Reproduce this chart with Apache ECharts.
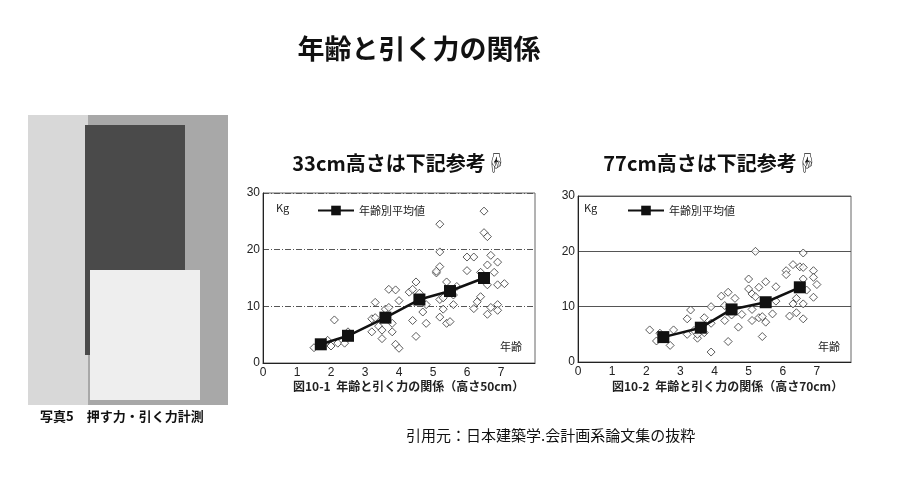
<!DOCTYPE html>
<html><head><meta charset="utf-8">
<script src="https://cdn.jsdelivr.net/npm/echarts@6/dist/echarts.min.js"></script>
<style>body{margin:0;background:#fff}#c{width:900px;height:500px}</style>
</head><body><div id="c"></div>
<script>
const title = "年齢と引く力の関係";
const sub1 = "33cm高さは下記参考☟";
const sub2 = "77cm高さは下記参考☟";
const cap1 = "図10-1  年齢と引く力の関係（高さ50cm）";
const cap2 = "図10-2  年齢と引く力の関係（高さ70cm）";
const photoCaption = "写真5　押す力・引く力計測";
const source = "引用元：日本建築学.会計画系論文集の抜粋";
const meanName = "年齢別平均値";
const xTicks = [0,1,2,3,4,5,6,7];
const yTicks = [0,10,20,30];
const scatter1 = [[1.5,2.7],[1.7,3.5],[1.9,4],[2.0,3],[2.1,7.6],[2.2,3.5],[2.4,3.5],[2.5,5.5],[2.5,4.5],
 [3.2,5.5],[3.2,7.8],[3.3,8],[3.3,10.7],[3.4,6.5],[3.5,4.3],[3.5,5.8],[3.6,9.5],[3.7,9.8],[3.7,13],[3.8,7],[3.8,5.5],[3.9,3.3],[4.0,2.6],[3.9,12.9],[4.0,11],
 [4.3,12.5],[4.4,13],[4.4,7.5],[4.5,14.3],[4.5,4.7],[4.6,12.3],[4.7,9],[4.8,10.3],[4.8,7],
 [5.1,15.9],[5.1,16.2],[5.2,17],[5.2,11.2],[5.2,8.1],[5.2,24.5],[5.2,19.6],[5.3,11.5],[5.3,9.5],[5.4,14.3],[5.4,7],[5.5,7.3],[5.6,10.3],[5.6,12],[5.7,13.5],
 [6.0,18.7],[6.0,16.3],[6.2,18.7],[6.2,9.6],[6.3,10.8],[6.4,11.7],[6.4,16],[6.5,23],[6.6,22.3],[6.6,17.3],[6.6,13.8],[6.6,8.6],[6.7,19],[6.7,9.8],[6.8,16],[6.9,17.8],[6.9,10.3],[6.9,9.3],[6.9,13.8],[7.1,14],[6.5,26.8]];
const mean1 = [[1.7,3.3],[2.5,4.8],[3.6,8],[4.6,11.2],[5.5,12.7],[6.5,15]];
const scatter2 = [[2.1,5.8],[2.3,3.8],[2.4,5.2],[2.7,3],[2.8,5.8],[3.2,5],[3.2,7.8],[3.3,9.4],[3.4,5.7],[3.5,4.3],[3.5,5],[3.7,8],[3.7,5.3],[3.9,7],[3.9,10],[3.9,1.8],
 [4.2,11.9],[4.3,7.5],[4.3,10.2],[4.4,12.6],[4.4,3.7],[4.5,8.5],[4.6,11.5],[4.7,6.3],[4.8,8.6],
 [5.0,15],[5.0,13.2],[5.1,12.3],[5.1,9.5],[5.1,7.5],[5.2,20],[5.2,11.8],[5.3,13.5],[5.3,8],[5.4,4.6],[5.4,8.2],[5.5,14.5],[5.5,7.2],[5.7,8.7],[5.8,13.6],[5.8,11],
 [6.1,16.5],[6.1,15.8],[6.3,17.6],[6.2,8.3],[6.3,10.5],[6.4,8.9],[6.4,11.5],[6.5,17.2],[6.6,19.7],[6.6,17.1],[6.6,15],[6.6,10.5],[6.6,7.8],[6.7,13],[6.9,16.5],[6.9,15.3],[6.9,11.7],[7.0,14]];
const mean2 = [[2.5,4.5],[3.6,6.2],[4.5,9.5],[5.5,10.8],[6.5,13.5]];

const font = "'Noto Sans CJK JP', sans-serif";
const chart = echarts.init(document.getElementById('c'));
function xa(i){return {type:'value',gridIndex:i,min:0,max:8,interval:1,
  axisLine:{lineStyle:{color:'#222'}},axisTick:{show:false},splitLine:{show:false},
  axisLabel:{color:'#222',fontSize:12,margin:4,formatter:v=>xTicks.includes(v)?String(v):''}};}
function ya(i,dashed){return {type:'value',gridIndex:i,min:0,max:30,interval:10,
  axisLine:{show:true,lineStyle:{color:'#222'}},axisTick:{show:false},
  splitLine:{lineStyle:{color:'#555',type:dashed?[6,2,1,2]:'solid',width:1}},
  axisLabel:{color:'#222',fontSize:12,margin:3,formatter:v=>yTicks.includes(v)?String(v):''}};}
function sc(i,d){return {type:'scatter',xAxisIndex:i,yAxisIndex:i,data:d,symbol:'diamond',symbolSize:8,
  itemStyle:{color:'#fff',borderColor:'#333',borderWidth:1},silent:true,z:2};}
function ln(i,d){return {type:'line',name:meanName,xAxisIndex:i,yAxisIndex:i,data:d,symbol:'rect',symbolSize:12,
  lineStyle:{color:'#111',width:2.5},itemStyle:{color:'#111'},z:5};}
chart.setOption({
  animation:false,
  title:[{text:title,left:414,top:30,textAlign:'center',textStyle:{fontFamily:font,fontSize:27,fontWeight:'bold',color:'#111'}},
    {text:sub1,left:394,top:148,textAlign:'center',textStyle:{fontFamily:font,fontSize:20,fontWeight:'bold',color:'#111'}},
    {text:sub2,left:705,top:148,textAlign:'center',textStyle:{fontFamily:font,fontSize:20,fontWeight:'bold',color:'#111'}}],
  legend:[{data:[meanName],left:312,top:200,itemWidth:36,itemHeight:12,textStyle:{fontFamily:font,fontSize:11,color:'#222'}},
    {data:[meanName],left:622,top:200,itemWidth:36,itemHeight:12,textStyle:{fontFamily:font,fontSize:11,color:'#222'}}],
  grid:[{left:263,top:193,width:272,height:170,show:true,borderColor:'#666',borderWidth:1},
    {left:578,top:196,width:273,height:166,show:true,borderColor:'#666',borderWidth:1}],
  xAxis:[xa(0),xa(1)],
  yAxis:[ya(0,true),ya(1,false)],
  series:[sc(0,scatter1),ln(0,mean1),sc(1,scatter2),ln(1,mean2)],
  graphic:[
    {type:'rect',shape:{x:28,y:115,width:200,height:290},style:{fill:'#a8a8a8'}},
    {type:'rect',shape:{x:28,y:115,width:60,height:290},style:{fill:'#d8d8d8'}},
    {type:'rect',shape:{x:85,y:125,width:100,height:230},style:{fill:'#4a4a4a'}},
    {type:'rect',shape:{x:90,y:270,width:110,height:130},style:{fill:'#eeeeee'}},
    {type:'text',left:40,top:410,style:{text:photoCaption,font:"bold 13px "+font,fill:'#111'}},
    {type:'text',left:276,top:202,style:{text:'Kg',font:"11px "+font,fill:'#222'}},
    {type:'text',left:584,top:202,style:{text:'Kg',font:"11px "+font,fill:'#222'}},
    {type:'text',left:500,top:341,style:{text:'年齢',font:"11px "+font,fill:'#222'}},
    {type:'text',left:818,top:341,style:{text:'年齢',font:"11px "+font,fill:'#222'}},
    {type:'text',left:293,top:380,style:{text:cap1,font:"bold 12px "+font,fill:'#222'}},
    {type:'text',left:612,top:380,style:{text:cap2,font:"bold 12px "+font,fill:'#222'}},
    {type:'text',left:406,top:428,style:{text:source,font:"15px "+font,fill:'#111'}}
  ]
});
</script></body></html>
